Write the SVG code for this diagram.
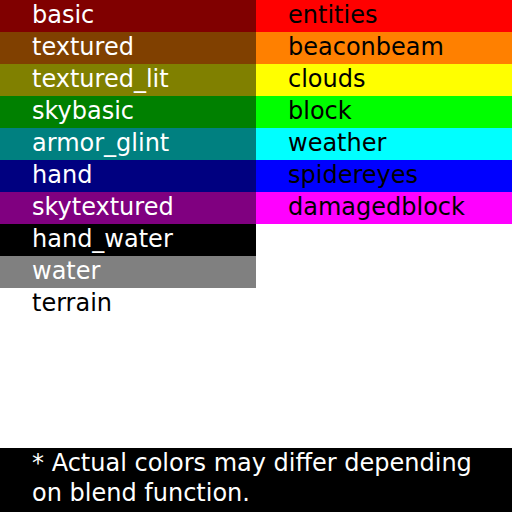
<svg xmlns="http://www.w3.org/2000/svg" width="512" height="512" viewBox="0 0 512 512">
<style>
text{font-family:"DejaVu Sans",sans-serif;font-size:24px}
.w{fill:#fff}
.k{fill:#000}
</style>
<rect width="512" height="512" fill="#fff"/>
<g id="basic"><rect x="0" y="0" width="256" height="32" fill="#800000"/><text class="w" x="32" y="23">basic</text></g>
<g id="textured"><rect x="0" y="32" width="256" height="32" fill="#804000"/><text class="w" x="32" y="55">textured</text></g>
<g id="textured_lit"><rect x="0" y="64" width="256" height="32" fill="#808000"/><text class="w" x="32" y="87">textured_lit</text></g>
<g id="skybasic"><rect x="0" y="96" width="256" height="32" fill="#008000"/><text class="w" x="32" y="119">skybasic</text></g>
<g id="armor_glint"><rect x="0" y="128" width="256" height="32" fill="#008080"/><text class="w" x="32" y="151">armor_glint</text></g>
<g id="hand"><rect x="0" y="160" width="256" height="32" fill="#000080"/><text class="w" x="32" y="183">hand</text></g>
<g id="skytextured"><rect x="0" y="192" width="256" height="32" fill="#800080"/><text class="w" x="32" y="215">skytextured</text></g>
<g id="hand_water"><rect x="0" y="224" width="256" height="32" fill="#000"/><text class="w" x="32" y="247">hand_water</text></g>
<g id="water"><rect x="0" y="256" width="256" height="32" fill="#808080"/><text class="w" x="32" y="279">water</text></g>
<g id="terrain"><text class="k" x="32" y="311">terrain</text></g>
<g id="entities"><rect x="256" y="0" width="256" height="32" fill="#ff0000"/><text class="k" x="288" y="23">entities</text></g>
<g id="beaconbeam"><rect x="256" y="32" width="256" height="32" fill="#ff8000"/><text class="k" x="288" y="55">beaconbeam</text></g>
<g id="clouds"><rect x="256" y="64" width="256" height="32" fill="#ffff00"/><text class="k" x="288" y="87">clouds</text></g>
<g id="block"><rect x="256" y="96" width="256" height="32" fill="#00ff00"/><text class="k" x="288" y="119">block</text></g>
<g id="weather"><rect x="256" y="128" width="256" height="32" fill="#00ffff"/><text class="k" x="288" y="151">weather</text></g>
<g id="spidereyes"><rect x="256" y="160" width="256" height="32" fill="#0000ff"/><text class="k" x="288" y="183">spidereyes</text></g>
<g id="damagedblock"><rect x="256" y="192" width="256" height="32" fill="#ff00ff"/><text class="k" x="288" y="215">damagedblock</text></g>
<g id="note"><rect x="0" y="448" width="512" height="64" fill="#000"/><text class="w" x="32" y="471">* Actual colors may differ depending</text><text class="w" x="32" y="501">on blend function.</text></g>
</svg>
